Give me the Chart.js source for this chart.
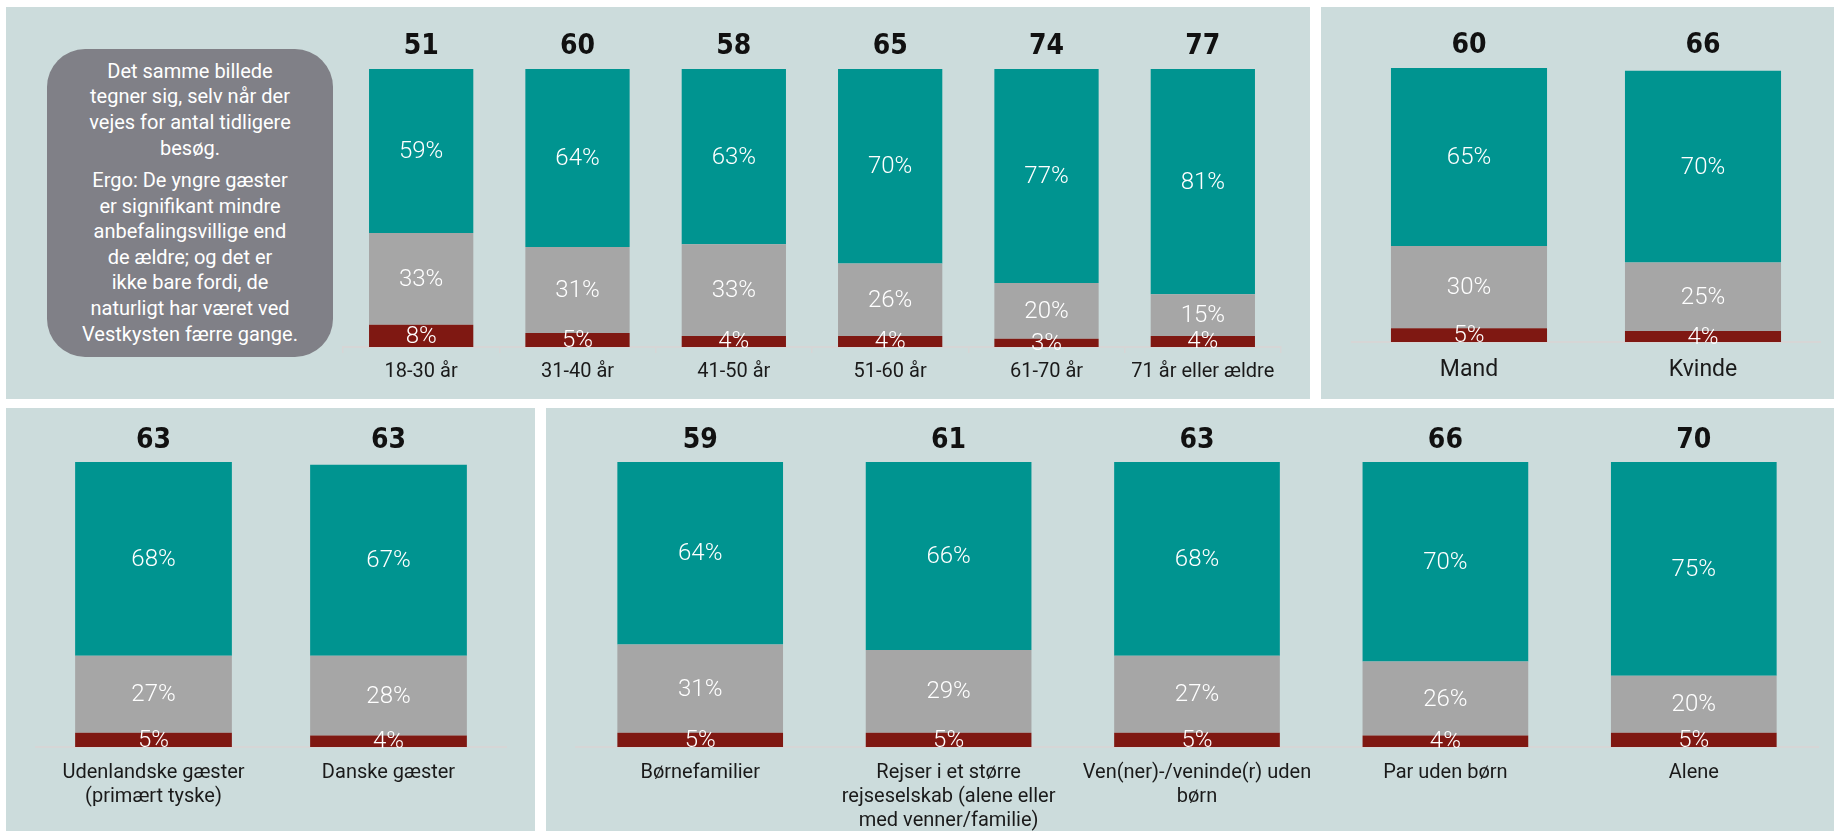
<!DOCTYPE html>
<html lang="da">
<head>
<meta charset="utf-8">
<title>Anbefalingsvillighed</title>
<script src="https://cdn.jsdelivr.net/npm/chart.js@4.4.1/dist/chart.umd.min.js"></script>
<style>
  html, body { margin: 0; padding: 0; background: #ffffff; }
  body { width: 1834px; height: 831px; position: relative; overflow: hidden; font-family: Roboto, "Noto Sans", sans-serif; }
  .panel { position: absolute; background: #ccdcdc; }
  canvas.chart { position: absolute; }
  .note {
    position: absolute; left: 47px; top: 49px; width: 286px; height: 308px;
    background: #808087; border-radius: 38px; box-sizing: border-box;
    color: #ffffff; text-align: center;
    font-family: Roboto, sans-serif; font-size: 20px; line-height: 25.6px;
    display: flex; flex-direction: column; justify-content: center;
  }
  .note p { margin: 0; }
  .note p + p { margin-top: 7px; }
</style>
</head>
<body>
<div class="panel" style="left:6px; top:7px; width:1304px; height:392px;"></div>
<div class="panel" style="left:1321px; top:7px; width:513px; height:392px;"></div>
<div class="panel" style="left:6px; top:408px; width:529px; height:423px;"></div>
<div class="panel" style="left:546px; top:408px; width:1288px; height:423px;"></div>

<div class="note">
  <p>Det samme billede<br>tegner sig, selv når der<br>vejes for antal tidligere<br>besøg.</p>
  <p>Ergo: De yngre gæster<br>er signifikant mindre<br>anbefalingsvillige end<br>de ældre; og det er<br>ikke bare fordi, de<br>naturligt har været ved<br>Vestkysten færre gange.</p>
</div>

<canvas id="cAge" class="chart"></canvas>
<canvas id="cGender" class="chart"></canvas>
<canvas id="cOrigin" class="chart"></canvas>
<canvas id="cTravel" class="chart"></canvas>

<script>
// Aldersgrupper
const ageCategories = ['18-30 år', '31-40 år', '41-50 år', '51-60 år', '61-70 år', '71 år eller ældre'];
const ageTotals = [51, 60, 58, 65, 74, 77];
const ageHigh = [59, 64, 63, 70, 77, 81];
const ageMid = [33, 31, 33, 26, 20, 15];
const ageLow = [8, 5, 4, 4, 3, 4];

// Køn
const genderCategories = ['Mand', 'Kvinde'];
const genderTotals = [60, 66];
const genderHigh = [65, 70];
const genderMid = [30, 25];
const genderLow = [5, 4];

// Nationalitet
const originCategories = [['Udenlandske gæster', '(primært tyske)'], 'Danske gæster'];
const originTotals = [63, 63];
const originHigh = [68, 67];
const originMid = [27, 28];
const originLow = [5, 4];

// Rejsefølge
const travelCategories = [
  'Børnefamilier',
  ['Rejser i et større', 'rejseselskab (alene eller', 'med venner/familie)'],
  ['Ven(ner)-/veninde(r) uden', 'børn'],
  'Par uden børn',
  'Alene'
];
const travelTotals = [59, 61, 63, 66, 70];
const travelHigh = [64, 66, 68, 70, 75];
const travelMid = [31, 29, 27, 26, 20];
const travelLow = [5, 5, 5, 4, 5];

const COLOR_HIGH = '#009490';
const COLOR_MID = '#a6a6a6';
const COLOR_LOW = '#7f1812';
const AXIS_COLOR = '#d6d6d6';

const SIDE = 60;   // horizontal room around the plot area
const HEAD = 50;   // room above the plot for the totals
const FOOT = 90;   // height reserved for the category axis

// Percent text centred in each stacked segment
const segmentLabels = {
  id: 'segmentLabels',
  afterDatasetsDraw(chart) {
    const ctx = chart.ctx;
    ctx.save();
    ctx.fillStyle = '#ffffff';
    ctx.font = '300 24px Roboto, sans-serif';
    ctx.textAlign = 'center';
    ctx.textBaseline = 'middle';
    chart.data.datasets.forEach((ds, di) => {
      const meta = chart.getDatasetMeta(di);
      meta.data.forEach((el, i) => {
        ctx.fillText(ds.data[i] + '%', el.x, (el.y + el.base) / 2 + 1);
      });
    });
    ctx.restore();
  }
};

// Total score printed above each column
const totalLabels = {
  id: 'totalLabels',
  afterDatasetsDraw(chart, args, opts) {
    const ctx = chart.ctx;
    const xs = chart.scales.x;
    ctx.save();
    ctx.fillStyle = '#111111';
    ctx.font = 'bold 28px "DejaVu Sans Condensed", "Liberation Sans Narrow", sans-serif';
    ctx.textAlign = 'center';
    ctx.textBaseline = 'middle';
    opts.values.forEach((v, i) => {
      ctx.fillText(String(v), xs.getPixelForValue(i), chart.chartArea.top - opts.gap);
    });
    ctx.restore();
  }
};

function buildChart(id, box, categories, low, mid, high, totals, axis) {
  const canvas = document.getElementById(id);
  const w = (box.right - box.left) + 2 * SIDE;
  const h = (box.bottom - box.top) + HEAD + FOOT;
  canvas.width = w;
  canvas.height = h;
  canvas.style.left = (box.left - SIDE) + 'px';
  canvas.style.top = (box.top - HEAD) + 'px';
  canvas.style.width = w + 'px';
  canvas.style.height = h + 'px';

  return new Chart(canvas, {
    type: 'bar',
    data: {
      labels: categories,
      datasets: [
        { label: 'Lav', data: low, backgroundColor: COLOR_LOW },
        { label: 'Mellem', data: mid, backgroundColor: COLOR_MID },
        { label: 'Høj', data: high, backgroundColor: COLOR_HIGH }
      ]
    },
    options: {
      responsive: false,
      animation: false,
      devicePixelRatio: 1,
      layout: { padding: { left: SIDE, right: SIDE, top: HEAD, bottom: 0 } },
      datasets: { bar: { barPercentage: 0.667, categoryPercentage: 1, borderWidth: 0 } },
      plugins: {
        legend: { display: false },
        tooltip: { enabled: false },
        totalLabels: { values: totals, gap: box.gap }
      },
      scales: {
        x: {
          stacked: true,
          afterFit(scale) { scale.height = FOOT; },
          border: { display: true, color: AXIS_COLOR, width: 2 },
          grid: axis.ticks
            ? { display: true, drawOnChartArea: false, drawTicks: true, tickLength: 6, color: AXIS_COLOR, lineWidth: 1.5, offset: true }
            : { display: false, drawTicks: false },
          ticks: {
            color: '#1a1a1a',
            padding: axis.pad,
            maxRotation: 0,
            autoSkip: false,
            font: { family: 'Roboto, sans-serif', size: axis.size, lineHeight: axis.lh }
          }
        },
        y: { stacked: true, display: false, min: 0, max: 100 }
      }
    },
    plugins: [segmentLabels, totalLabels]
  });
}

buildChart('cAge', { left: 343, right: 1281, top: 69, bottom: 347, gap: 22 },
  ageCategories, ageLow, ageMid, ageHigh, ageTotals, { ticks: true, pad: 7, size: 20, lh: 1.2 });

buildChart('cGender', { left: 1352, right: 1820, top: 68, bottom: 342, gap: 22 },
  genderCategories, genderLow, genderMid, genderHigh, genderTotals, { ticks: false, pad: 14, size: 23, lh: 1.2 });

buildChart('cOrigin', { left: 36, right: 506, top: 462, bottom: 747, gap: 21 },
  originCategories, originLow, originMid, originHigh, originTotals, { ticks: false, pad: 14, size: 20, lh: 1.2 });

buildChart('cTravel', { left: 576, right: 1818, top: 462, bottom: 747, gap: 21 },
  travelCategories, travelLow, travelMid, travelHigh, travelTotals, { ticks: false, pad: 14, size: 20, lh: 1.2 });
</script>
</body>
</html>
